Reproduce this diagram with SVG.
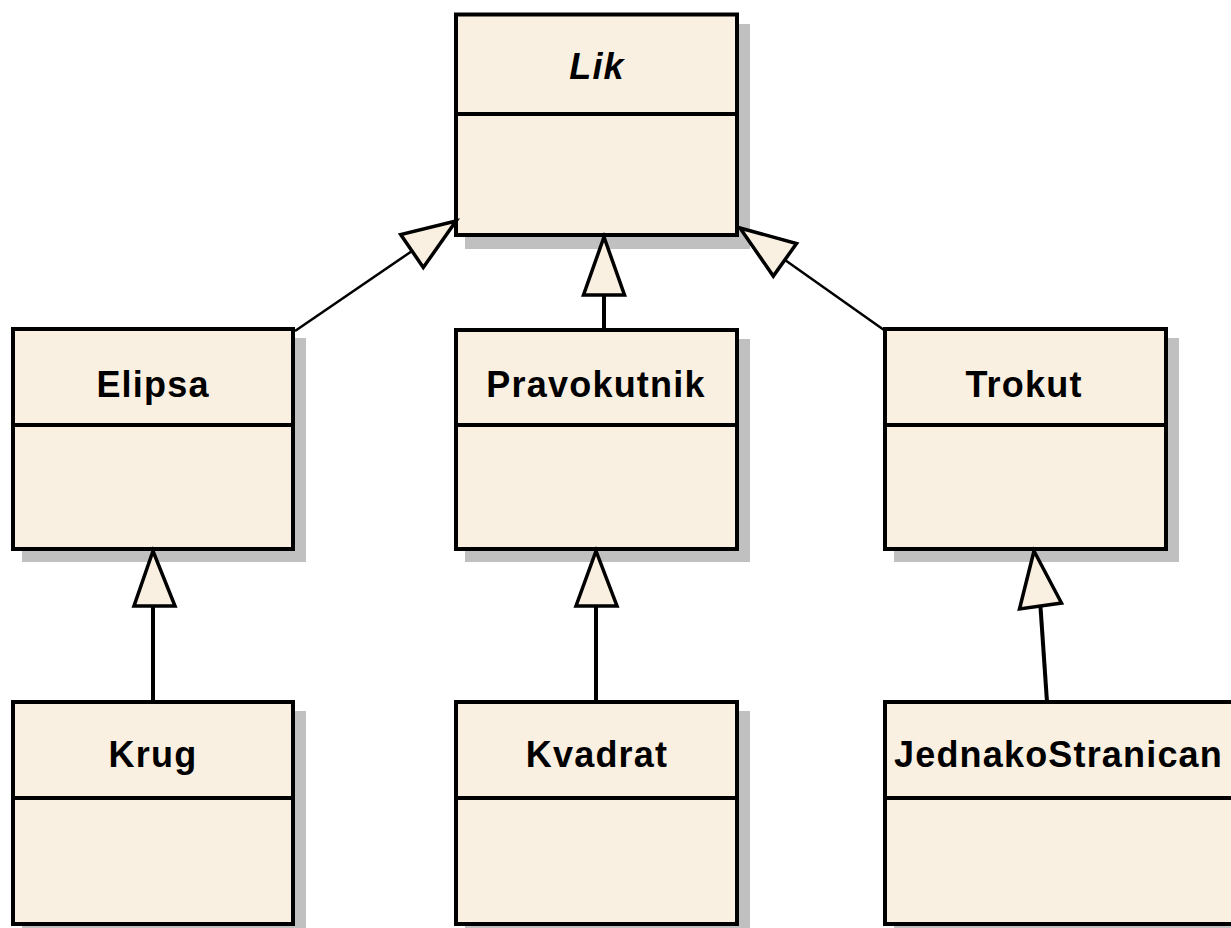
<svg xmlns="http://www.w3.org/2000/svg" width="1231" height="928" viewBox="0 0 1231 928">
  <style>
    .shadow { fill: #c0c0c0; }
    .box { fill: #faf0e1; stroke: #000; stroke-width: 4; }
    .div { stroke: #000; stroke-width: 4; }
    .name { font-family: "Liberation Sans", Arial, sans-serif; font-weight: bold; font-size: 36px; letter-spacing: 1.2px; fill: #000; text-anchor: middle; }
    .abstract { font-style: italic; }
    .line { fill: none; stroke: #000; stroke-width: 4; }
    .thin { fill: none; stroke: #000; stroke-width: 2.5; }
    .head { fill: #faf0e1; stroke: #000; stroke-width: 3.5; stroke-linejoin: miter; }
  </style>
  <rect width="1231" height="928" fill="#fff"/>

  <!-- class Lik (abstract) -->
  <g id="lik">
    <rect class="shadow" x="465" y="24" width="285" height="225"/>
    <rect class="box" x="456" y="14.5" width="281" height="220.5"/>
    <line class="div" x1="456" y1="114" x2="737" y2="114"/>
    <text class="name abstract" x="597" y="79">Lik</text>
  </g>

  <!-- class Elipsa -->
  <g id="elipsa">
    <rect class="shadow" x="22" y="338" width="284" height="224"/>
    <rect class="box" x="13" y="329" width="280" height="220"/>
    <line class="div" x1="13" y1="425" x2="293" y2="425"/>
    <text class="name" x="153" y="397">Elipsa</text>
  </g>

  <!-- class Pravokutnik -->
  <g id="pravokutnik">
    <rect class="shadow" x="465" y="339" width="285" height="223"/>
    <rect class="box" x="456" y="330" width="281" height="219"/>
    <line class="div" x1="456" y1="425" x2="737" y2="425"/>
    <text class="name" x="596" y="397">Pravokutnik</text>
  </g>

  <!-- class Trokut -->
  <g id="trokut">
    <rect class="shadow" x="894" y="338" width="285" height="224"/>
    <rect class="box" x="885" y="329" width="281" height="220"/>
    <line class="div" x1="885" y1="425" x2="1166" y2="425"/>
    <text class="name" x="1024" y="397">Trokut</text>
  </g>

  <!-- class Krug -->
  <g id="krug">
    <rect class="shadow" x="22" y="711" width="284" height="226"/>
    <rect class="box" x="13" y="702" width="280" height="222"/>
    <line class="div" x1="13" y1="798" x2="293" y2="798"/>
    <text class="name" x="153" y="767">Krug</text>
  </g>

  <!-- class Kvadrat -->
  <g id="kvadrat">
    <rect class="shadow" x="465" y="711" width="285" height="226"/>
    <rect class="box" x="456" y="702" width="281" height="222"/>
    <line class="div" x1="456" y1="798" x2="737" y2="798"/>
    <text class="name" x="597" y="767">Kvadrat</text>
  </g>

  <!-- class JednakoStranican -->
  <g id="jednakostranican">
    <rect class="shadow" x="894" y="711" width="360" height="226"/>
    <rect class="box" x="885" y="702" width="360" height="222"/>
    <line class="div" x1="885" y1="798" x2="1245" y2="798"/>
    <text class="name" x="894" y="767" style="text-anchor:start" textLength="329" lengthAdjust="spacing">JednakoStranican</text>
  </g>

  <!-- generalization connectors -->
  <g id="connectors">
    <!-- Elipsa -> Lik -->
    <line class="thin" x1="295" y1="331" x2="412" y2="251"/>
    <polygon class="head" points="456,221 400.7,234.5 423.3,267.5"/>
    <!-- Pravokutnik -> Lik -->
    <line class="line" x1="604" y1="330" x2="604" y2="295"/>
    <polygon class="head" points="604,237 583.5,295 624.5,295"/>
    <!-- Trokut -> Lik -->
    <line class="thin" x1="884" y1="330" x2="785" y2="260"/>
    <polygon class="head" points="740,228 796.5,243.5 773.3,276.1"/>
    <!-- Krug -> Elipsa -->
    <line class="line" x1="153" y1="702" x2="153" y2="606"/>
    <polygon class="head" points="153,551 134,606 175,606"/>
    <!-- Kvadrat -> Pravokutnik -->
    <line class="line" x1="596" y1="702" x2="596" y2="606"/>
    <polygon class="head" points="596,551 576,606 617,606"/>
    <!-- JednakoStranican -> Trokut -->
    <line class="line" x1="1047" y1="702" x2="1040.5" y2="607"/>
    <polygon class="head" points="1034,551 1019.5,609 1061.5,603"/>
  </g>
</svg>
